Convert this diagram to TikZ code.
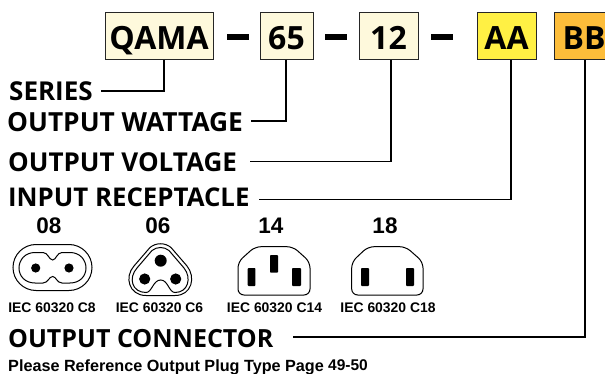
\documentclass[tikz,border=0pt]{standalone}
\usepackage{fontspec}
\setmainfont{Open Sans}
\newfontfamily\arialb{Liberation Sans}[BoldFont={Liberation Sans Bold}]
\definecolor{cream}{HTML}{FEF9DC}
\definecolor{yel}{HTML}{FFF044}
\definecolor{org}{HTML}{FDBD3A}
\tikzset{
 codebox/.style={draw=black!85,line width=1pt,fill=cream,minimum height=47pt,inner sep=0pt,text height=27pt,text depth=0pt,font=\fontsize{32}{32}\selectfont\bfseries,text=black},
 head/.style={anchor=base west,inner sep=0pt},
 lead/.style={line width=1.6pt},
 dashbar/.style={fill=black,draw=none,minimum width=22pt,minimum height=5.5pt,inner sep=0pt},
 num/.style={inner sep=0pt,font=\arialb\fontsize{22.5}{24}\selectfont\bfseries},
 iec/.style={inner sep=0pt,font=\arialb\fontsize{13.9}{15}\selectfont\bfseries},
 plug/.style={line width=1pt,draw=black},
 pin/.style={fill=black,draw=none,rounded corners=0.8pt},
}
\newcommand{\hf}[1]{\fontsize{#1}{28}\selectfont\bfseries}
\begin{document}
\begin{tikzpicture}[x=1pt,y=-1pt]
\useasboundingbox (0,0) rectangle (605,374);
\fill[white] (0,0) rectangle (605,374);
% code boxes
\node[codebox,minimum width=108pt] (qama) at (159,36.5) {QAMA};
\node[codebox,minimum width=53pt] (w) at (286.5,36.5) {65};
\node[codebox,minimum width=59pt] (v) at (388.5,36.5) {12};
\node[codebox,minimum width=59pt,fill=yel] (aa) at (506.5,36.5) {AA};
\node[codebox,minimum width=60pt,fill=org] (bb) at (584,36.5) {BB};
\node[dashbar] (d1) at (238,37) {};
\node[dashbar] (d2) at (336,37) {};
\node[dashbar] (d3) at (442,37) {};
% headings
\node[head,font=\hf{26}] (series) at (9,100.5) {SERIES};
\node[head,font=\hf{26.3}] (watt) at (7,132) {OUTPUT WATTAGE};
\node[head,font=\hf{26}] (volt) at (8,172) {OUTPUT VOLTAGE};
\node[head,font=\hf{25.8}] (inp) at (8,206.5) {INPUT RECEPTACLE};
\node[head,font=\hf{25}] (outc) at (8,347) {OUTPUT CONNECTOR};
% free ends
\coordinate (e1) at (101,91);
\coordinate (e2) at (251,121);
\coordinate (e3) at (250,161.5);
\coordinate (e4) at (259,199.5);
\coordinate (e5) at (293,337);
\coordinate (t1) at (164,60);
\coordinate (t2) at (286,60);
\coordinate (t3) at (391,60);
\coordinate (t4) at (511,60);
\coordinate (t5) at (585,60);
\draw[lead] (t1) |- (e1);
\draw[lead] (t2) |- (e2);
\draw[lead] (t3) |- (e3);
\draw[lead] (t4) |- (e4);
\draw[lead] (t5) |- (e5);
% numbers
\node[num] (n08) at (49,226) {08};
\node[num] (n06) at (158,226) {06};
\node[num] (n14) at (271,226) {14};
\node[num] (n18) at (385,226) {18};
% labels
\node[iec] (l8) at (52,307.5) {IEC 60320 C8};
\node[iec] (l6) at (159.5,307.5) {IEC 60320 C6};
\node[iec] (l14) at (274.5,307.5) {IEC 60320 C14};
\node[iec] (l18) at (388,307.5) {IEC 60320 C18};
\node[anchor=base west,inner sep=0pt,font=\arialb\fontsize{16.2}{17}\selectfont\bfseries] (ref) at (8,371) {Please Reference Output Plug Type Page};
\node[anchor=base west,inner sep=0pt,font=\arialb\fontsize{15.5}{17}\selectfont\bfseries] (pg) at (328,370) {49-50};
% C8
\draw[plug] (36,244.5) -- (69,244.5) .. controls (81.7,244.5) and (92,254.8) .. (92,267.5) .. controls (92,280.2) and (81.7,290.5) .. (69,290.5) -- (36,290.5) .. controls (23.3,290.5) and (13,280.2) .. (13,267.5) .. controls (13,254.8) and (23.3,244.5) .. (36,244.5) -- cycle;
\draw[plug] (35,252.5) -- (43,252.5) .. controls (48,252.5) and (49,260) .. (52.7,260) .. controls (56,260) and (57,252.5) .. (62,252.5) -- (70,252.5)
  .. controls (80,252.5) and (86,260) .. (86,268) .. controls (86,276) and (80,283) .. (70,283) -- (62,283)
  .. controls (57,283) and (56,276.5) .. (52.7,276.5) .. controls (49,276.5) and (48,283) .. (43,283) -- (35,283)
  .. controls (25,283) and (19,276) .. (19,268) .. controls (19,260) and (25,252.5) .. (35,252.5) -- cycle;
\fill (35.7,268) circle[radius=4.6];
\fill (69,268) circle[radius=4.6];
% C6
\draw[plug] (150,247.5) .. controls (156,242.5) and (165,242.5) .. (171,247.5) -- (187,266) .. controls (196,277) and (192,295.5) .. (175,295.5) -- (146,295.5)
  .. controls (129,295.5) and (124,277) .. (134,266) -- cycle;
\draw[plug] (152,250.5) .. controls (157,246.5) and (164,246.5) .. (169,250.5) -- (184,268) .. controls (192,278) and (188,292.5) .. (175,292.5)
  .. controls (169,292.5) and (168,280) .. (160.7,280) .. controls (153,280) and (152,292.5) .. (146,292.5)
  .. controls (132,292.5) and (128,278) .. (137,268) -- cycle;
\fill (160.7,260.7) circle[radius=6];
\fill (144.7,279) circle[radius=5.6];
\fill (175.7,279) circle[radius=5.6];
% C14
\draw[plug,rounded corners=6pt] (255,246.7) -- (293,246.7) -- (310,262) -- (310,295) -- (238,295) -- (238,262) -- cycle;
\fill[pin] (247.7,268) rectangle (255.3,286);
\fill[pin] (270,255) rectangle (278,272.7);
\fill[pin] (292,268) rectangle (301,286);
% C18
\draw[plug,rounded corners=6pt] (368,246.7) -- (405.7,246.7) -- (423,262) -- (423,295) -- (351.7,295) -- (351.7,262) -- cycle;
\fill[pin] (361,268) rectangle (369,286);
\fill[pin] (406,268) rectangle (414,286);
\end{tikzpicture}
\end{document}
